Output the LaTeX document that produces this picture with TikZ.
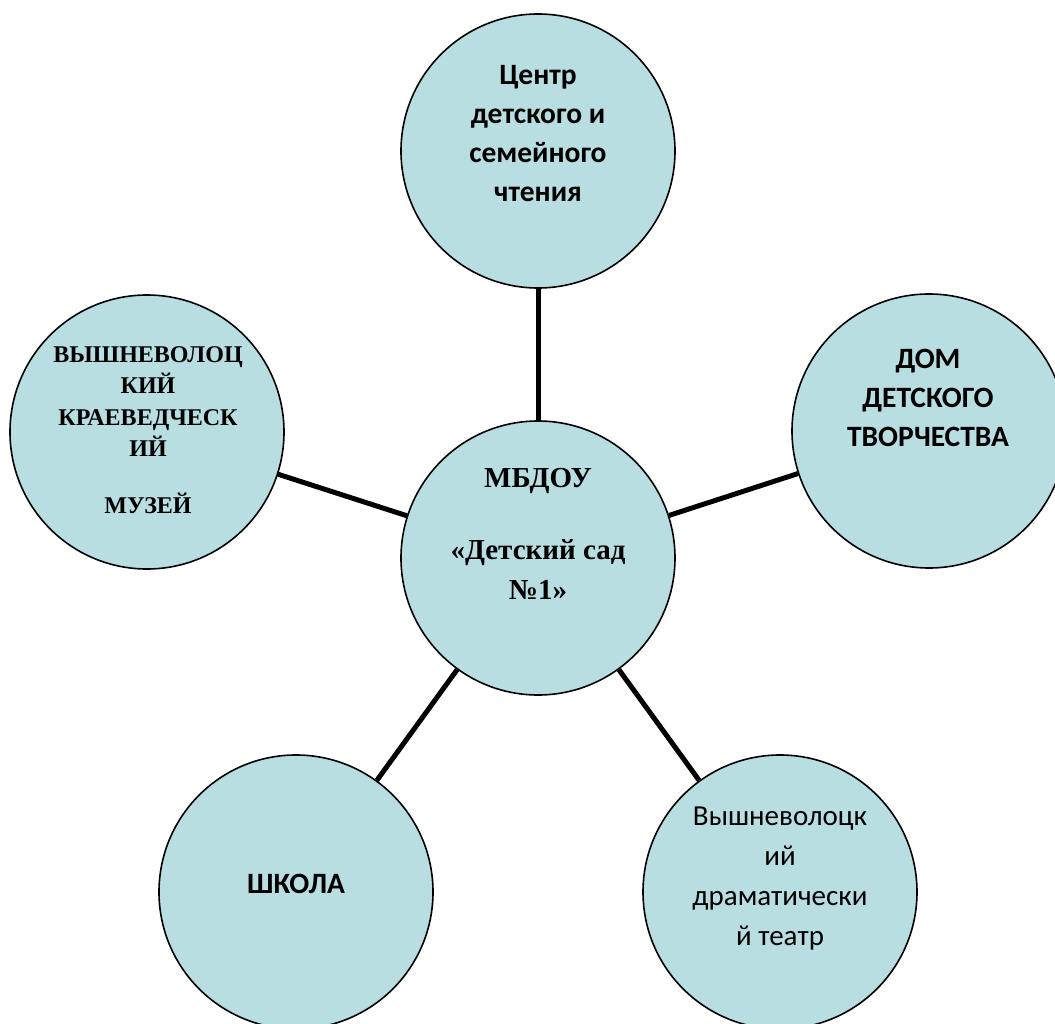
\documentclass[tikz,border=0pt]{standalone}
\usepackage{fontspec}
\setmainfont{Liberation Serif}
\newfontfamily\calibri{Carlito}
\definecolor{bubble}{RGB}{184,222,226}
\begin{document}
\begin{tikzpicture}[x=1pt,y=-1pt,
  bubble/.style={circle,draw=black,line width=1.6pt,fill=bubble,minimum size=274pt,inner sep=0pt},
  link/.style={line width=5pt},
  cal/.style={font=\calibri\fontsize{29}{40}\selectfont,align=center,inner sep=0pt},
  calb/.style={font=\calibri\bfseries\fontsize{29.5}{39}\selectfont,align=center,inner sep=0pt},
  tms/.style={font=\bfseries\fontsize{24}{31.5}\selectfont,align=center,inner sep=0pt},
  tmsc/.style={font=\bfseries\fontsize{29}{40}\selectfont,align=center,inner sep=0pt}]
\useasboundingbox (0,0) rectangle (1055,1024);
\clip (0,0) rectangle (1055,1024);
\node[bubble] (c) at (538,558) {};
\node[bubble] (t) at (538,151) {};
\node[bubble] (l) at (147,432) {};
\node[bubble] (r) at (929,431) {};
\node[bubble] (bl) at (296,892) {};
\node[bubble] (br) at (780,892) {};
\draw[link] (c) -- (t);
\draw[link] (c) -- (l);
\draw[link] (c) -- (r);
\draw[link] (c) -- (bl);
\draw[link] (c) -- (br);
\node[calb] (tt) at (538,134) {Центр\\детского и\\семейного\\чтения};
\node[calb] (rt) at (928,398) {ДОМ\\ДЕТСКОГО\\ТВОРЧЕСТВА};
\node[tms] (lt) at (148,430) {ВЫШНЕВОЛОЦ\\КИЙ\\КРАЕВЕДЧЕСК\\ИЙ\\[25pt]МУЗЕЙ};
\node[tmsc] (ct) at (538,534) {МБДОУ\\[32pt]«Детский сад\\№1»};
\node[calb] (blt) at (296,884) {ШКОЛА};
\node[cal] (brt) at (780,879) {Вышневолоцк\\ий\\драматически\\й театр};
\end{tikzpicture}
\end{document}
